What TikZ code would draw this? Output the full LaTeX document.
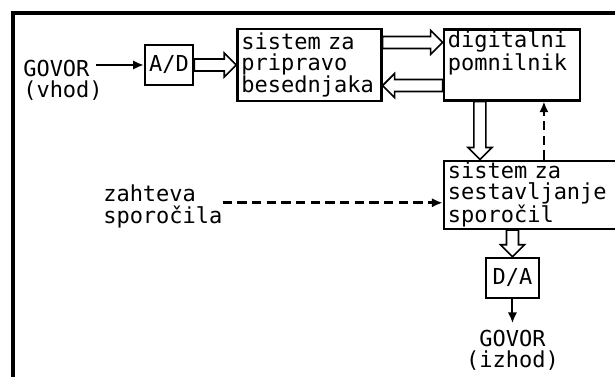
\documentclass[tikz,border=0pt]{standalone}
\usepackage{fontspec}
\setmonofont{DejaVu Sans Mono}
\usetikzlibrary{arrows.meta, positioning, calc}

% wide hollow arrow between two points
\newcommand{\fatarrow}[2]{%
  \coordinate (fatbase) at ($(#2)!9pt!(#1)$);
  \draw[hollow] ($(#1)!4.5pt!90:(#2)$) -- ($(fatbase)!4.5pt!90:(#2)$)
    -- ($(fatbase)!9pt!90:(#2)$) -- (#2) -- ($(fatbase)!9pt!-90:(#2)$)
    -- ($(fatbase)!4.5pt!-90:(#2)$) -- ($(#1)!4.5pt!-90:(#2)$) -- cycle;}

\begin{document}
\begin{tikzpicture}[
    x=0.75pt, y=-0.75pt,
    blk/.style={
        draw,
        line width=1.8pt,
        align=left,
        inner xsep=3pt,
        inner ysep=1pt,
        font=\ttfamily\fontsize{16.5}{15.5}\selectfont
    },
    txt/.style={
        inner sep=0pt,
        font=\ttfamily\fontsize{16.5}{16}\selectfont
    },
    arrow/.style={
        ->,
        >={Latex[length=8pt, width=7pt]},
        line width=1.5pt
    },
    request/.style={
        arrow,
        dash pattern=on 7pt off 4pt,
        line width=2pt
    },
    hollow/.style={
        draw,
        fill=white,
        line width=1.2pt
    },
    frame/.style={
        line width=2.5pt
    }
]
\useasboundingbox (0,0) rectangle (615,377);

% Frame
\draw[frame] (615,13) -- (13,13) -- (13,377);

% Nodes
\node (ad) [blk, align=center, minimum width=36pt, minimum height=30pt] at (169,65) {A/D};
\node (prep) [blk, text width=102pt, minimum height=54pt, right=31.5pt of ad] {sistem za\\pripravo\\besednjaka};
\node (mem) [blk, text width=96pt, text height=12.5pt, text depth=38.5pt, right=45pt of prep] {digitalni\\pomnilnik};
\node (comp) [blk, text width=125pt, minimum height=51pt, below=43.5pt of mem.south west, anchor=north west] {sistem za\\sestavljanje\\sporočil};
\node (da) [blk, align=center, minimum width=39.75pt, minimum height=30pt, below=20pt of comp, xshift=-14pt] {D/A};

\node (govin) [txt, align=left, anchor=north west] at (23,60) {GOVOR\\(vhod)};
\node (req) [txt, align=left, anchor=north west] at (103,185) {zahteva\\sporočila};
\node (gout) [txt, align=center, below=23pt of da] {GOVOR\\(izhod)};

% Coordinates
\coordinate (adprep) at (ad.east -| prep.west);
\coordinate (p2m) at ($(prep.north east)+(0,-11pt)$);
\coordinate (p2mend) at (p2m -| mem.west);
\coordinate (m2p) at ($(mem.south west)+(0,12pt)$);
\coordinate (m2pend) at (m2p -| prep.east);
\coordinate (m2c) at ($(mem.south west)+(28pt,0)$);
\coordinate (m2cend) at (m2c |- comp.north);
\coordinate (c2m) at ($(comp.north west)+(76pt,0)$);
\coordinate (reqin) at ($(comp.west)+(0,-6pt)$);
\coordinate (cda) at (da.north |- comp.south);

% Paths
\draw[arrow, shorten <=-5pt] (ad.west -| govin.east) -- (ad.west);
\fatarrow{ad.east}{adprep}
\fatarrow{p2m}{p2mend}
\fatarrow{m2p}{m2pend}
\fatarrow{m2c}{m2cend}
\fatarrow{cda}{da.north}
\draw[request] (c2m) -- (c2m |- mem.south);
\draw[request] (req.east |- reqin) -- (reqin);
\draw[arrow, shorten >=5pt] (da) -- (gout);

\end{tikzpicture}
\end{document}
